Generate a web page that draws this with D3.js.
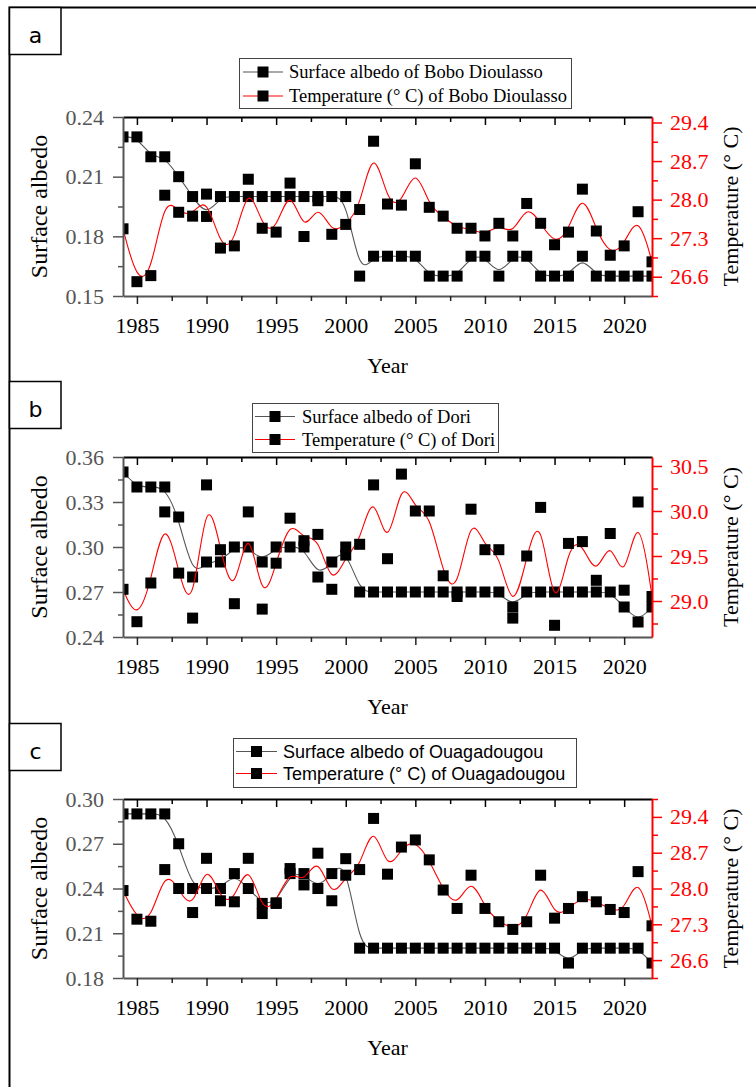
<!DOCTYPE html>
<html>
<head>
<meta charset="utf-8">
<script src="https://cdn.jsdelivr.net/npm/d3@7"></script>
<style>
  body { margin: 0; background: #fff; }
</style>
</head>
<body>
<div id="chart"></div>
<script>
// ---- data ----
const years = [1984, 1985, 1986, 1987, 1988, 1989, 1990, 1991, 1992, 1993,
               1994, 1995, 1996, 1997, 1998, 1999, 2000, 2001, 2002, 2003,
               2004, 2005, 2006, 2007, 2008, 2009, 2010, 2011, 2012, 2013,
               2014, 2015, 2016, 2017, 2018, 2019, 2020, 2021, 2022]

const albedoBobo = [0.23, 0.23, 0.22, 0.22, 0.21, 0.20, 0.19, 0.20, 0.20, 0.20,
                    0.20, 0.20, 0.20, 0.20, 0.20, 0.20, 0.20, 0.16, 0.17, 0.17,
                    0.17, 0.17, 0.16, 0.16, 0.16, 0.17, 0.17, 0.16, 0.17, 0.17,
                    0.16, 0.16, 0.16, 0.17, 0.16, 0.16, 0.16, 0.16, 0.16]
const tempBobo = [27.47, 26.51, 26.62, 28.08, 27.77, 27.70, 28.10, 27.12, 27.16, 28.37,
                  27.48, 27.41, 28.30, 27.33, 27.98, 27.37, 27.55, 27.82, 29.06, 27.92,
                  27.90, 28.65, 27.86, 27.70, 27.48, 27.48, 27.34, 27.57, 27.34, 27.93,
                  27.57, 27.18, 27.41, 28.19, 27.43, 26.99, 27.16, 27.78, 26.87]

const albedoDori = [0.35, 0.34, 0.34, 0.34, 0.32, 0.28, 0.29, 0.29, 0.30, 0.30,
                    0.29, 0.30, 0.30, 0.30, 0.28, 0.29, 0.30, 0.27, 0.27, 0.27,
                    0.27, 0.27, 0.27, 0.27, 0.27, 0.27, 0.27, 0.27, 0.26, 0.27,
                    0.27, 0.27, 0.27, 0.27, 0.27, 0.27, 0.26, 0.25, 0.26]
const tempDori = [29.13, 28.77, 29.20, 29.99, 29.31, 28.81, 30.29, 29.57, 28.97, 29.99,
                  28.91, 29.42, 29.92, 29.67, 29.74, 29.13, 29.51, 29.63, 30.29, 29.47,
                  30.41, 30.00, 30.00, 29.28, 29.05, 30.02, 29.57, 29.57, 28.81, 29.50,
                  30.04, 28.73, 29.64, 29.66, 29.23, 29.75, 29.12, 30.10, 29.05]

const albedoOuaga = [0.29, 0.29, 0.29, 0.29, 0.27, 0.24, 0.24, 0.24, 0.25, 0.24,
                     0.23, 0.23, 0.25, 0.25, 0.24, 0.25, 0.26, 0.20, 0.20, 0.20,
                     0.20, 0.20, 0.20, 0.20, 0.20, 0.20, 0.20, 0.20, 0.20, 0.20,
                     0.20, 0.20, 0.19, 0.20, 0.20, 0.20, 0.20, 0.20, 0.19]
const tempOuaga = [27.96, 27.40, 27.36, 28.37, 28.00, 27.53, 28.59, 27.76, 27.74, 28.59,
                   27.51, 27.72, 28.39, 28.07, 28.69, 27.76, 28.26, 28.37, 29.37, 28.28,
                   28.81, 28.95, 28.56, 27.97, 27.61, 28.26, 27.61, 27.35, 27.20, 27.35,
                   28.26, 27.42, 27.61, 27.84, 27.74, 27.59, 27.53, 28.33, 27.27]

const yearTicks = [1985, 1990, 1995, 2000, 2005, 2010, 2015, 2020]
const albedoTicksA = [0.15, 0.18, 0.21, 0.24]
const albedoTicksB = [0.24, 0.27, 0.30, 0.33, 0.36]
const albedoTicksC = [0.18, 0.21, 0.24, 0.27, 0.30]
const tempTicksA = [26.6, 27.3, 28.0, 28.7, 29.4]
const tempTicksB = [29.0, 29.5, 30.0, 30.5]
const tempTicksC = [26.6, 27.3, 28.0, 28.7, 29.4]

// ---- layout ----
const W = 756, H = 1087
const X0 = 123, X1 = 652
const SERIF = "'Liberation Serif', 'Times New Roman', serif"
const SANS = "'Liberation Sans', Arial, sans-serif"
const MARK = 11

const panels = [
  { id: "a", station: "Bobo Dioulasso", albedo: albedoBobo, temp: tempBobo,
    top: 117, bottom: 296, yDomain: [0.15, 0.24], tDomain: [26.25, 29.5],
    yTicks: albedoTicksA, tTicks: tempTicksA, tStep: 0.7, boxTop: 7,
    legend: { x0: 239, x1: 571, y0: 58, y1: 108, l0: 243, l1: 283, tx: 289, r1: 72, r2: 96, font: SERIF, size: 18.5 } },
  { id: "b", station: "Dori", albedo: albedoDori, temp: tempDori,
    top: 457, bottom: 637, yDomain: [0.24, 0.36], tDomain: [28.6, 30.6],
    yTicks: albedoTicksB, tTicks: tempTicksB, tStep: 0.5, boxTop: 381,
    legend: { x0: 252, x1: 498, y0: 403, y1: 452, l0: 255, l1: 295, tx: 302, r1: 416.5, r2: 439.5, font: SERIF, size: 18.5 } },
  { id: "c", station: "Ouagadougou", albedo: albedoOuaga, temp: tempOuaga,
    top: 799, bottom: 978, yDomain: [0.18, 0.30], tDomain: [26.25, 29.75],
    yTicks: albedoTicksC, tTicks: tempTicksC, tStep: 0.7, boxTop: 723,
    legend: { x0: 233, x1: 576, y0: 738, y1: 787, l0: 236, l1: 277, tx: 283, r1: 751.5, r2: 773.5, font: SANS, size: 18 } }
]

const svg = d3.select("#chart").append("svg")
              .attr("width", W)
              .attr("height", H)

// outer frame (top + left edges)
svg.append("path")
   .attr("d", `M9.5,${H} V7.5 H${W}`)
   .attr("fill", "none")
   .attr("stroke", "#000")
   .attr("stroke-width", 2)

const x = d3.scaleLinear().domain([1984, 2022]).range([X0, X1])
const yearMinor = yearTicks.map(d => d + 2.5).filter(d => d < 2022)

function mids(ticks, step, domain) {
  const out = []
  ticks.forEach(t => {
    [t - step / 2, t + step / 2].forEach(m => {
      if (m >= domain[0] - 1e-9 && m <= domain[1] + 1e-9 && !out.some(o => Math.abs(o - m) < 1e-6)) out.push(m)
    })
  })
  return out
}

function square(g, cx, cy) {
  g.append("rect")
   .attr("x", cx - MARK / 2)
   .attr("y", cy - MARK / 2)
   .attr("width", MARK)
   .attr("height", MARK)
   .attr("fill", "#000")
}

panels.forEach(p => {
  const y = d3.scaleLinear().domain(p.yDomain).range([p.bottom, p.top])
  const t = d3.scaleLinear().domain(p.tDomain).range([p.bottom, p.top])
  const g = svg.append("g")

  // panel letter box
  g.append("rect")
   .attr("x", 9.5).attr("y", p.boxTop + 0.5)
   .attr("width", 51.5).attr("height", 47)
   .attr("fill", "#fff").attr("stroke", "#000").attr("stroke-width", 1.5)
  g.append("text")
   .attr("x", 35.5).attr("y", p.boxTop + 36)
   .attr("text-anchor", "middle")
   .style("font-family", "'DejaVu Sans', sans-serif")
   .style("font-size", "22px")
   .text(p.id)

  // clip for the plot area
  const clipId = "clip-" + p.id
  svg.append("clipPath").attr("id", clipId)
     .append("rect")
     .attr("x", X0).attr("y", p.top)
     .attr("width", X1 - X0).attr("height", p.bottom - p.top)

  const plot = g.append("g").attr("clip-path", `url(#${clipId})`)

  const albedoLine = d3.line()
                       .x((d, k) => x(years[k]))
                       .y(d => y(d))
                       .curve(d3.curveBasis)
  const tempLine = d3.line()
                     .x((d, k) => x(years[k]))
                     .y(d => t(d))
                     .curve(d3.curveBasis)

  plot.append("path")
      .datum(p.albedo)
      .attr("d", albedoLine)
      .attr("fill", "none")
      .attr("stroke", "#555")
      .attr("stroke-width", 1.1)
  plot.selectAll(".ma")
      .data(p.albedo)
      .join("rect")
      .attr("x", (d, k) => x(years[k]) - MARK / 2)
      .attr("y", d => y(d) - MARK / 2)
      .attr("width", MARK).attr("height", MARK)
      .attr("fill", "#000")

  plot.append("path")
      .datum(p.temp)
      .attr("d", tempLine)
      .attr("fill", "none")
      .attr("stroke", "#ff0000")
      .attr("stroke-width", 1.1)
  plot.selectAll(".mt")
      .data(p.temp)
      .join("rect")
      .attr("x", (d, k) => x(years[k]) - MARK / 2)
      .attr("y", d => t(d) - MARK / 2)
      .attr("width", MARK).attr("height", MARK)
      .attr("fill", "#000")

  // top axis (ticks inward, no labels)
  const topAxis = g.append("g").attr("transform", `translate(0,${p.top})`)
  topAxis.call(d3.axisBottom(x).tickValues(yearTicks).tickSize(8).tickSizeOuter(0).tickFormat(""))
  topAxis.append("g").call(d3.axisBottom(x).tickValues(yearMinor).tickSize(5).tickFormat(""))
         .select(".domain").remove()
  topAxis.selectAll(".domain").attr("stroke", "#000").attr("stroke-width", 2)
  topAxis.selectAll(".tick line").attr("stroke", "#000").attr("stroke-width", 1.5)

  // bottom axis
  const botAxis = g.append("g").attr("transform", `translate(0,${p.bottom})`)
  botAxis.call(d3.axisBottom(x).tickValues(yearTicks).tickSize(8).tickSizeOuter(0).tickFormat(d3.format("d")))
  botAxis.attr("font-family", SERIF)
  botAxis.append("g").call(d3.axisBottom(x).tickValues(yearMinor).tickSize(5).tickFormat(""))
         .select(".domain").remove()
  botAxis.selectAll(".domain").attr("stroke", "#555").attr("stroke-width", 2)
  botAxis.selectAll(".tick line").attr("stroke", "#222").attr("stroke-width", 1.5)
  botAxis.selectAll(".tick text")
         .attr("y", 37).attr("dy", null)
         .attr("fill", "#000")
         .style("font-family", SERIF).style("font-size", "22px")

  // left axis (albedo)
  const leftAxis = g.append("g").attr("transform", `translate(${X0},0)`)
  leftAxis.call(d3.axisLeft(y).tickValues(p.yTicks).tickSize(10).tickPadding(9).tickSizeOuter(0).tickFormat(d3.format(".2f")))
  leftAxis.attr("font-family", SERIF)
  leftAxis.append("g").call(d3.axisLeft(y).tickValues(mids(p.yTicks, 0.03, p.yDomain)).tickSize(5).tickFormat(""))
          .select(".domain").remove()
  leftAxis.selectAll(".domain").attr("stroke", "#555").attr("stroke-width", 2)
  leftAxis.selectAll(".tick line").attr("stroke", "#555").attr("stroke-width", 1.5)
  leftAxis.selectAll(".tick text")
          .attr("fill", "#555")
          .style("font-family", SERIF).style("font-size", "22px")

  // right axis (temperature)
  const rightAxis = g.append("g").attr("transform", `translate(${X1},0)`)
  rightAxis.call(d3.axisRight(t).tickValues(p.tTicks).tickSize(10).tickPadding(8).tickSizeOuter(0).tickFormat(d3.format(".1f")))
  rightAxis.attr("font-family", SERIF)
  rightAxis.append("g").call(d3.axisRight(t).tickValues(mids(p.tTicks, p.tStep, p.tDomain)).tickSize(6).tickFormat(""))
           .select(".domain").remove()
  rightAxis.selectAll(".domain").attr("stroke", "#ff0000").attr("stroke-width", 2)
  rightAxis.selectAll(".tick line").attr("stroke", "#ff0000").attr("stroke-width", 1.5)
  rightAxis.selectAll(".tick text")
           .attr("fill", "#ff0000")
           .style("font-family", SERIF).style("font-size", "22px")

  // axis titles
  const midY = (p.top + p.bottom) / 2
  g.append("text")
   .attr("transform", `translate(47,${midY}) rotate(-90)`)
   .attr("text-anchor", "middle")
   .style("font-family", SERIF).style("font-size", "24px")
   .text("Surface albedo")
  g.append("text")
   .attr("transform", `translate(738,${midY}) rotate(-90)`)
   .attr("text-anchor", "middle")
   .style("font-family", SERIF).style("font-size", "22px")
   .text("Temperature (° C)")
  g.append("text")
   .attr("x", (X0 + X1) / 2).attr("y", p.bottom + 77)
   .attr("text-anchor", "middle")
   .style("font-family", SERIF).style("font-size", "22px")
   .text("Year")

  // legend
  const L = p.legend
  g.append("rect")
   .attr("x", L.x0 + 0.5).attr("y", L.y0 + 0.5)
   .attr("width", L.x1 - L.x0).attr("height", L.y1 - L.y0)
   .attr("fill", "#fff").attr("stroke", "#444").attr("stroke-width", 1)
  const rows = [
    { y: L.r1, color: "#555", label: `Surface albedo of ${p.station}` },
    { y: L.r2, color: "#ff0000", label: `Temperature (° C) of ${p.station}` }
  ]
  rows.forEach(r => {
    g.append("line")
     .attr("x1", L.l0).attr("x2", L.l1)
     .attr("y1", r.y).attr("y2", r.y)
     .attr("stroke", r.color).attr("stroke-width", 1.1)
    square(g, (L.l0 + L.l1) / 2, r.y)
    g.append("text")
     .attr("x", L.tx).attr("y", r.y + 6)
     .style("font-family", L.font).style("font-size", L.size + "px")
     .text(r.label)
  })
})
</script>
</body>
</html>
